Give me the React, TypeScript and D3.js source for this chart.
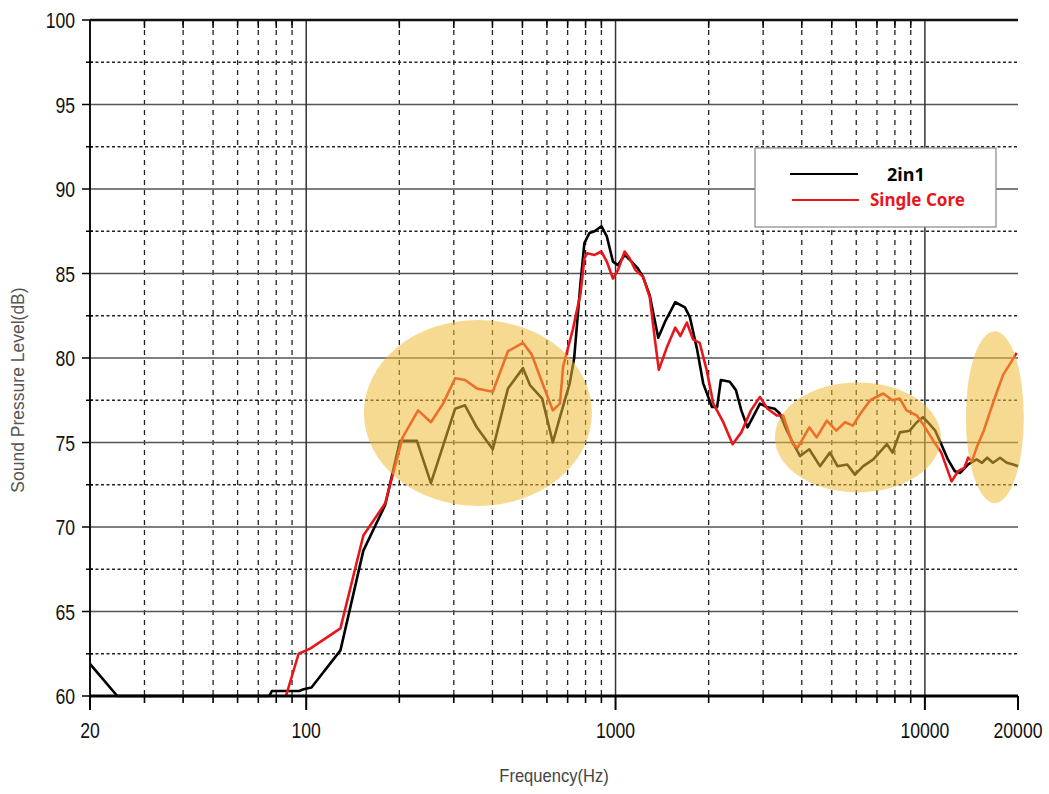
import React from "react";
import * as d3 from "d3";

// Frequency response: [frequency Hz, SPL dB]
const twoInOne: [number, number][] = [
  [20, 61.9], [24.5, 60], [76, 60], [77.5, 60.3], [95, 60.3], [98, 60.4], [104, 60.5],
  [129, 62.7], [153, 68.6], [180, 71.3], [201, 75.1], [228, 75.1], [253, 72.6],
  [303, 77.0], [326, 77.2], [356, 75.9], [401, 74.6], [449, 78.2], [502, 79.4],
  [529, 78.4], [579, 77.6], [627, 75.0], [661, 76.5], [711, 78.5], [735, 80.0],
  [770, 84.4], [793, 86.8], [824, 87.4], [855, 87.5], [900, 87.8], [937, 87.2],
  [981, 85.7], [1018, 85.5], [1070, 86.1], [1127, 85.7], [1180, 85.3], [1227, 84.8],
  [1290, 83.7], [1374, 81.2], [1450, 82.2], [1560, 83.3], [1676, 83.0], [1740, 82.4],
  [1835, 80.5], [1920, 78.5], [2050, 77.1], [2130, 77.1], [2190, 78.7], [2340, 78.6],
  [2450, 78.1], [2550, 76.9], [2670, 75.9], [2780, 76.5], [2930, 77.3], [3080, 77.1],
  [3270, 77.0], [3400, 76.7], [3560, 75.8], [3740, 75.0], [3950, 74.2], [4230, 74.6],
  [4580, 73.6], [4930, 74.4], [5220, 73.6], [5610, 73.7], [5940, 73.1], [6320, 73.6],
  [6810, 74.0], [7540, 74.9], [7860, 74.4], [8300, 75.6], [8930, 75.7], [9420, 76.2],
  [9850, 76.5], [10220, 76.2], [10800, 75.7], [11300, 74.9], [11870, 74.0], [12500, 73.3],
  [13000, 73.2], [13800, 73.7], [14700, 74.0], [15300, 73.8], [15900, 74.1], [16600, 73.8],
  [17500, 74.1], [18400, 73.8], [19300, 73.7], [20000, 73.6],
];

const singleCore: [number, number][] = [
  [86, 60.0], [94.5, 62.5], [103, 62.8], [129, 64.0], [153, 69.5], [180, 71.4],
  [205, 75.3], [230, 76.9], [253, 76.2], [277, 77.3], [303, 78.8], [326, 78.7],
  [356, 78.2], [401, 78.0], [449, 80.4], [502, 80.9], [536, 80.2], [583, 78.4],
  [627, 76.9], [661, 77.3], [677, 79.5], [728, 81.7], [770, 83.8], [793, 85.9],
  [810, 86.2], [855, 86.1], [900, 86.3], [937, 85.7], [981, 84.7], [1018, 85.2],
  [1070, 86.3], [1110, 85.9], [1160, 85.2], [1227, 84.8], [1290, 83.6], [1340, 81.1],
  [1380, 79.3], [1470, 80.7], [1560, 81.8], [1620, 81.3], [1700, 82.1], [1780, 81.1],
  [1870, 80.9], [1970, 79.3], [2070, 77.3], [2230, 76.2], [2390, 74.9], [2550, 75.6],
  [2740, 76.9], [2930, 77.7], [3100, 77.0], [3320, 76.6], [3480, 76.6], [3740, 74.9],
  [3880, 74.7], [4230, 75.9], [4470, 75.3], [4820, 76.3], [5170, 75.7], [5520, 76.2],
  [5850, 76.0], [6180, 76.7], [6660, 77.5], [7330, 77.9], [7860, 77.5], [8300, 77.6],
  [8720, 76.9], [9420, 76.6], [9850, 76.1], [10650, 75.1], [11300, 74.4], [12200, 72.7],
  [12800, 73.3], [13400, 73.5], [13800, 74.1], [14200, 73.9], [14700, 74.7], [15500, 75.7],
  [16300, 76.9], [17100, 78.0], [17900, 79.0], [18900, 79.7], [19800, 80.3],
];

const yTicks = [60, 65, 70, 75, 80, 85, 90, 95, 100];
const yMinor = [62.5, 67.5, 72.5, 77.5, 82.5, 87.5, 92.5, 97.5];
const xLabels = [20, 100, 1000, 10000, 20000];
const xMajorGrid = [100, 1000, 10000];
const xMinor = [30, 40, 50, 60, 70, 80, 90, 200, 300, 400, 500, 600, 700, 800, 900,
  2000, 3000, 4000, 5000, 6000, 7000, 8000, 9000];

// Highlighted regions: [centre freq, centre dB, half-width px, half-height px]
const highlights: [number, number, number, number][] = [
  [359, 76.75, 114, 93],
  [6075, 75.3, 83, 55],
  [16830, 76.5, 29, 86],
];

const legendItems = [
  { name: "2in1", color: "#000000" },
  { name: "Single Core", color: "#e8161b" },
];

export default function App() {
  const x = d3.scaleLog().domain([20, 20000]).range([90, 1018]);
  const y = d3.scaleLinear().domain([60, 100]).range([696, 20]);
  const line = d3.line<[number, number]>().x((d) => x(d[0])).y((d) => y(d[1]));
  const [x0, x1] = x.range();
  const [yb, yt] = y.range();

  return (
    <svg width={1049} height={794} style={{ position: "absolute", left: 0, top: 0, background: "#fff" }}>
      <defs>
        <clipPath id="plot">
          <rect x={x0} y={yt - 2} width={x1 - x0 + 2} height={yb - yt + 4} />
        </clipPath>
      </defs>
      {/* minor horizontal grid */}
      {yMinor.map((v) => (
        <line key={"hm" + v} x1={x0} x2={x1} y1={y(v)} y2={y(v)} stroke="#222" strokeWidth={1.4} strokeDasharray="3,2.5" />
      ))}
      {/* minor vertical grid */}
      {xMinor.map((f) => (
        <line key={"vm" + f} x1={x(f)} x2={x(f)} y1={yt} y2={yb} stroke="#222" strokeWidth={1.3} strokeDasharray="5,5" />
      ))}
      {/* major horizontal grid */}
      {yTicks.filter((v) => v > 60 && v < 100).map((v) => (
        <line key={"hM" + v} x1={x0} x2={x1} y1={y(v)} y2={y(v)} stroke="#555" strokeWidth={1.6} />
      ))}
      {/* major vertical grid */}
      {xMajorGrid.map((f) => (
        <line key={"vM" + f} x1={x(f)} x2={x(f)} y1={yt} y2={yb} stroke="#333" strokeWidth={1.5} />
      ))}
      {/* top ticks (inward) */}
      {xMinor.map((f) => (
        <line key={"tt" + f} x1={x(f)} x2={x(f)} y1={yt} y2={yt + 8} stroke="#000" strokeWidth={1.5} />
      ))}
      {/* axes frame */}
      <line x1={x0} x2={x1} y1={yt} y2={yt} stroke="#111" strokeWidth={2.5} />
      <line x1={x0} x2={x0} y1={yt} y2={yb} stroke="#111" strokeWidth={2} />

      {/* data */}
      <g clipPath="url(#plot)" fill="none" strokeWidth={2.6} strokeLinejoin="round">
        <path d={line(twoInOne) ?? ""} stroke={legendItems[0].color} />
        <path d={line(singleCore) ?? ""} stroke={legendItems[1].color} />
      </g>

      <line x1={x0} x2={x1} y1={yb} y2={yb} stroke="#000" strokeWidth={3} />

      {/* left ticks */}
      {yTicks.map((v) => (
        <line key={"lt" + v} x1={x0 - 8} x2={x0} y1={y(v)} y2={y(v)} stroke="#000" strokeWidth={1.5} />
      ))}
      {yMinor.map((v) => (
        <line key={"lm" + v} x1={x0 - 4} x2={x0 + 3} y1={y(v)} y2={y(v)} stroke="#000" strokeWidth={1.5} />
      ))}
      {/* bottom ticks */}
      {xLabels.map((f) => (
        <line key={"bt" + f} x1={x(f)} x2={x(f)} y1={yb} y2={yb + 14} stroke="#000" strokeWidth={2} />
      ))}
      {xMinor.map((f) => (
        <line key={"bm" + f} x1={x(f)} x2={x(f)} y1={yb} y2={yb + 7} stroke="#000" strokeWidth={1.6} />
      ))}

      {/* y labels */}
      {yTicks.map((v) => (
        <g key={"yl" + v} transform={`translate(75,${y(v) + 8}) scale(0.8,1)`}>
          <text textAnchor="end" fontFamily="'Liberation Sans', Arial, sans-serif" fontSize={22} fill="#111">{v}</text>
        </g>
      ))}
      {/* x labels */}
      {xLabels.map((f) => (
        <g key={"xl" + f} transform={`translate(${x(f)},${738}) scale(0.8,1)`}>
          <text textAnchor="middle" fontFamily="'Liberation Sans', Arial, sans-serif" fontSize={22} fill="#111">{f}</text>
        </g>
      ))}

      {/* axis titles */}
      <g transform="translate(554,782) scale(0.92,1)">
        <text textAnchor="middle" fontFamily="'Liberation Sans', Arial, sans-serif" fontSize={18} fill="#444">Frequency(Hz)</text>
      </g>
      <text transform="translate(24,390) rotate(-90)" textAnchor="middle" fontFamily="'Liberation Sans', Arial, sans-serif" fontSize={17.5} fill="#555">Sound Pressure Level(dB)</text>

      {/* legend */}
      <rect x={755} y={148} width={241} height={79} fill="#fff" stroke="#888" strokeWidth={1.2} />
      <line x1={790} x2={858} y1={174} y2={174} stroke={legendItems[0].color} strokeWidth={2.2} />
      <text x={887} y={181} fontFamily="'Noto Sans', sans-serif" fontWeight="bold" fontSize={18} fill={legendItems[0].color}>{legendItems[0].name}</text>
      <line x1={792} x2={859} y1={200} y2={200} stroke={legendItems[1].color} strokeWidth={2.2} />
      <text x={870} y={206} fontFamily="'Noto Sans', sans-serif" fontWeight="bold" fontSize={17} fill={legendItems[1].color}>{legendItems[1].name}</text>

      {/* highlight ellipses */}
      {highlights.map(([f, v, rx, ry], i) => (
        <ellipse key={"hl" + i} cx={x(f)} cy={y(v)} rx={rx} ry={ry} fill="#efbb38" fillOpacity={0.55} />
      ))}
    </svg>
  );
}
